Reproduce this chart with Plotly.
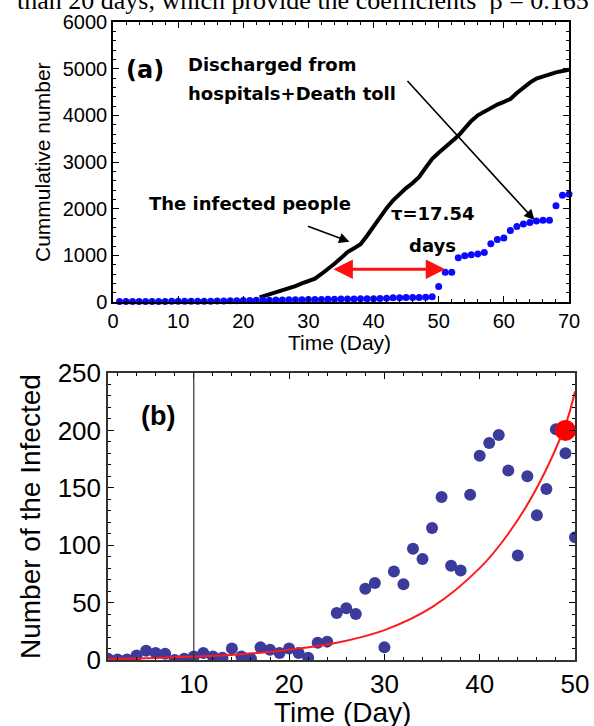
import plotly.graph_objects as go

W, H = 594, 726

# ---- panel (a): cumulative numbers ----
infected_days = list(range(1, 71))
infected_cum = [
    10, 10, 11, 11, 12, 12, 13, 13, 14, 14,
    15, 15, 16, 17, 18, 20, 22, 25, 28, 30,
    33, 36, 38, 40, 42, 44, 46, 48, 50, 52,
    54, 56, 58, 60, 62, 64, 66, 68, 70, 72,
    76, 80, 90, 92, 94, 96, 98, 100, 115, 330,
    640, 640, 950, 990, 1010, 1030, 1060, 1250, 1340, 1370,
    1530, 1620, 1670, 1705, 1735, 1750, 1750, 2060, 2290, 2310,
]
discharged_days = [22.5] + list(range(23, 71))
discharged_cum = [
    100, 120, 160, 200, 240, 290, 340, 400, 440, 500,
    600, 700, 820, 940, 1070, 1150, 1240, 1420, 1620, 1820,
    2010, 2180, 2320, 2440, 2550, 2680, 2880, 3070, 3200, 3310,
    3440, 3560, 3720, 3880, 4000, 4080, 4160, 4230, 4290, 4350,
    4480, 4600, 4700, 4790, 4840, 4880, 4920, 4950, 4980,
]
x_ticks_a = [0, 10, 20, 30, 40, 50, 60, 70]

# ---- panel (b): number of the infected ----
daily_days = list(range(1, 51))
daily_new = [
    1, 0.5, 0.5, 4, 8, 6, 5.5, 0, 1, 3,
    6, 3, 2, 10, 3, 1, 11, 9, 6, 10,
    6, 2, 15, 16, 41, 45, 40, 62, 67, 11,
    77, 66, 97, 88, 115, 142, 82, 78, 144, 178,
    189, 196, 165, 91, 160, 126, 149, 201, 180, 107,
]
fit_days = [1, 5, 10, 15, 20, 25, 30, 35, 40, 43, 46, 49, 50]
fit_values = [1, 1.5, 3, 5, 9, 15, 26, 46, 80, 110, 150, 205, 234]
highlight_day = [49]
highlight_value = [200]
x_ticks_b = [10, 20, 30, 40, 50]
marker_day = 10


def px(x):
    return x / W


def py(y):
    return 1 - y / H


AXIS_FONT = "Liberation Sans, Arial, sans-serif"
NOTE_FONT = "DejaVu Sans, sans-serif"

fig = go.Figure()

fig.add_trace(go.Scatter(
    x=discharged_days, y=discharged_cum, mode="lines",
    line={"color": "black", "width": 4},
    xaxis="x", yaxis="y", showlegend=False,
))
fig.add_trace(go.Scatter(
    x=infected_days, y=infected_cum, mode="markers",
    marker={"color": "#0a0aff", "size": 7},
    xaxis="x", yaxis="y", showlegend=False, cliponaxis=False,
))

fig.add_trace(go.Scatter(
    x=daily_days, y=daily_new, mode="markers",
    marker={"color": "#3b3b9c", "size": 12},
    xaxis="x2", yaxis="y2", showlegend=False,
))
fig.add_trace(go.Scatter(
    x=fit_days, y=fit_values, mode="lines",
    line={"color": "#ff1a1a", "width": 2, "shape": "spline"},
    xaxis="x2", yaxis="y2", showlegend=False,
))
fig.add_trace(go.Scatter(
    x=highlight_day, y=highlight_value, mode="markers",
    marker={"color": "#ff0000", "size": 21},
    xaxis="x2", yaxis="y2", showlegend=False, cliponaxis=False,
))

fig.add_shape(
    type="line", xref="x2", yref="y2 domain",
    x0=marker_day, x1=marker_day, y0=0, y1=1,
    line={"color": "#333333", "width": 1.2},
)

common = dict(
    showline=True, linecolor="black", linewidth=1.5, mirror="allticks",
    ticks="inside", ticklen=6, tickcolor="black", tickwidth=1.2,
    showgrid=False, zeroline=False, automargin=False,
)

fig.update_layout(
    width=W, height=H,
    margin={"l": 0, "r": 0, "t": 0, "b": 0},
    paper_bgcolor="white", plot_bgcolor="white",
    font={"family": AXIS_FONT, "color": "black"},
    xaxis=dict(
        common, domain=[px(113), px(569)], range=[0, 70],
        tickvals=x_ticks_a, tickfont={"size": 20},
        minor={"dtick": 2, "ticks": "inside", "ticklen": 3, "tickcolor": "black"},
        anchor="y",
    ),
    yaxis=dict(
        common, domain=[py(302), py(22)], range=[0, 6000],
        dtick=1000, tickfont={"size": 20},
        minor={"dtick": 200, "ticks": "inside", "ticklen": 3, "tickcolor": "black"},
        anchor="x",
    ),
    xaxis2=dict(
        common, domain=[px(108), px(575)], range=[1, 50],
        tickvals=x_ticks_b, tickfont={"size": 26}, linecolor="#333333",
        minor={"dtick": 2, "ticks": "inside", "ticklen": 3, "tickcolor": "black"},
        anchor="y2",
    ),
    yaxis2=dict(
        common, domain=[py(660), py(373)], range=[0, 250],
        dtick=50, tickfont={"size": 26}, linecolor="#333333",
        minor={"dtick": 10, "ticks": "inside", "ticklen": 3, "tickcolor": "black"},
        anchor="x2",
    ),
)

paper_notes = [
    ("than 20 days, which provide the coefficients  \u03b2 = 0.165", 15, 0, "left",
     {"family": "Liberation Serif, serif", "size": 26}),
    ("Cummulative number", 42, 162, "center", {"size": 21}),
    ("Time (Day)", 340, 343, "center", {"size": 21}),
    ("Number of the Infected", 30, 517, "center", {"size": 28}),
    ("Time (Day)", 342, 712, "center", {"size": 28}),
    ("<b>(a)</b>", 145, 70, "center", {"family": NOTE_FONT, "size": 24}),
    ("<b>(b)</b>", 158, 416, "center", {"family": AXIS_FONT, "size": 27}),
    ("<b>Discharged from</b>", 186, 65, "left", {"family": NOTE_FONT, "size": 18}),
    ("<b>hospitals+Death toll</b>", 186, 94, "left", {"family": NOTE_FONT, "size": 18}),
    ("<b>The infected people</b>", 147, 203, "left", {"family": NOTE_FONT, "size": 18}),
    ("<b>\u03c4=17.54</b>", 433, 213, "center", {"family": NOTE_FONT, "size": 18}),
    ("<b>days</b>", 432, 245, "center", {"family": NOTE_FONT, "size": 18}),
]
for text, x, y, anchor, font in paper_notes:
    vertical = text in ("Cummulative number", "Number of the Infected")
    fig.add_annotation(
        text=text, xref="paper", yref="paper", x=px(x), y=py(y),
        xanchor=anchor, yanchor="middle", showarrow=False,
        textangle=-90 if vertical else 0, font=font,
    )

# arrows of panel (a)
fig.add_annotation(
    x=51, y=700, ax=33.6, ay=700, xref="x", yref="y", axref="x", ayref="y",
    text="", showarrow=True, arrowside="end+start", arrowhead=2,
    arrowsize=1.3, arrowwidth=3, arrowcolor="#ff1010",
)
fig.add_annotation(
    x=36.3, y=1291, ax=29.7, ay=1634, xref="x", yref="y", axref="x", ayref="y",
    text="", showarrow=True, arrowhead=2, arrowsize=1.3, arrowwidth=1.6,
    arrowcolor="black",
)
fig.add_annotation(
    x=64.7, y=1756, ax=45.0, ay=4769, xref="x", yref="y", axref="x", ayref="y",
    text="", showarrow=True, arrowhead=2, arrowsize=1.3, arrowwidth=1.6,
    arrowcolor="black",
)

# drop the browser's default 8px body margin so the figure fills the window
fig.write_html(
    "out.html",
    config={"displayModeBar": False},
    post_script="document.body.style.margin = '0';",
)
